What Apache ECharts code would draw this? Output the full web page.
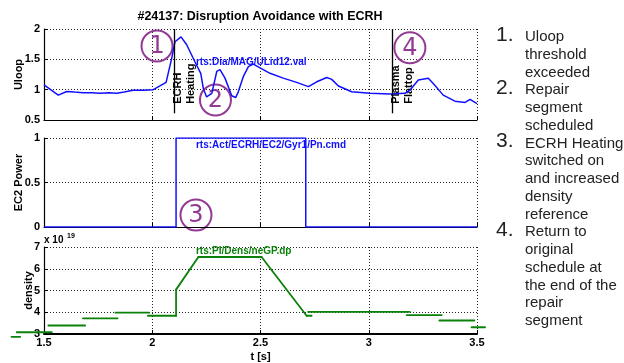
<!DOCTYPE html>
<html>
<head>
<meta charset="utf-8">
<script src="https://cdn.jsdelivr.net/npm/echarts@6/dist/echarts.min.js"></script>
<style>
  html, body { margin: 0; padding: 0; background: #fff; }
  #chart { width: 624px; height: 363px; }
</style>
</head>
<body>
<div id="chart"></div>
<script>
// Uloop (rts:Dia/MAG/ULid12.val)
const ulT = [1.50, 1.566, 1.605, 1.64, 1.68, 1.72, 1.759, 1.80, 1.836, 1.87, 1.911, 1.96, 2.005, 2.064, 2.09, 2.105,
  2.133, 2.159, 2.197, 2.224, 2.236, 2.251, 2.275, 2.298, 2.313, 2.336, 2.367, 2.385, 2.397, 2.42, 2.444, 2.467,
  2.498, 2.544, 2.605, 2.667, 2.721, 2.76, 2.806, 2.829, 2.86, 2.921, 3.006, 3.098, 3.167, 3.19, 3.229, 3.275,
  3.298, 3.344, 3.398, 3.445, 3.468, 3.50];
const ulV = [1.08, 0.91, 0.97, 0.96, 0.95, 0.95, 0.94, 0.95, 0.94, 0.96, 0.99, 0.99, 1.00, 1.12, 1.52, 1.79,
  1.87, 1.74, 1.46, 1.27, 1.02, 0.88, 0.94, 1.30, 1.33, 1.19, 0.90, 0.87, 0.96, 1.21, 1.38, 1.42,
  1.36, 1.27, 1.19, 1.12, 1.05, 1.13, 1.20, 1.17, 1.06, 0.965, 0.94, 0.93, 0.94, 0.99, 1.16, 1.19,
  1.10, 0.91, 0.81, 0.79, 0.84, 0.77];

// EC2 power command (rts:Act/ECRH/EC2/Gyr1/Pn.cmd)
const ecT = [1.5, 2.11, 2.11, 2.709, 2.709, 3.5];
const ecV = [0, 0, 1, 1, 0, 0];

// density reference (rts:PI/Dens/neGP.dp), x 10^19, null = break
const densT = [1.35, 1.39, null, 1.374, 1.536, null, 1.52, 1.69, null, 1.68, 1.84, null, 1.83, 1.985, null,
  1.98, 2.11, 2.11, 2.213, 2.505, 2.713, 2.736, null, 2.72, 3.19, null, 3.175, 3.337, null, 3.326, 3.488, null,
  3.475, 3.537];
const densV = [2.87, 2.87, null, 3.08, 3.08, null, 3.39, 3.39, null, 3.72, 3.72, null, 3.98, 3.98, null,
  3.84, 3.84, 5.04, 6.54, 6.54, 3.84, 3.84, null, 4.02, 4.02, null, 3.87, 3.87, null, 3.62, 3.62, null,
  3.31, 3.31];

// event lines in the Uloop panel
const eventT = [2.102, 3.109];
const eventLabels = [['ECRH', 'Heating'], ['Plasma', 'Flattop']];

const notes = [
  ['1.', ['Uloop', 'threshold', 'exceeded']],
  ['2.', ['Repair', 'segment', 'scheduled']],
  ['3.', ['ECRH Heating', 'switched on', 'and increased', 'density', 'reference']],
  ['4.', ['Return to', 'original', 'schedule at', 'the end of the', 'repair', 'segment']]
];

const FONT = 'Liberation Sans, Arial, sans-serif';
const PURPLE = '#933a94';
const BLUE = '#1010ff';
const GREEN = '#0a820a';

const chart = echarts.init(document.getElementById('chart'));

function xAxis(gridIndex, showLabels) {
  return {
    type: 'value', gridIndex, min: 1.5, max: 3.5, interval: 0.5,
    axisLine: { onZero: false, lineStyle: { color: '#000', width: showLabels ? 2 : 1.2 } },
    axisTick: { inside: true, length: 4, lineStyle: { color: '#000' } },
    axisLabel: { show: showLabels, color: '#000', fontWeight: 'bold', fontSize: 11, fontFamily: FONT, margin: 3 },
    splitLine: { show: true, lineStyle: { color: '#222', type: [1, 2], width: 1 } },
    name: showLabels ? 't [s]' : '', nameLocation: 'middle', nameGap: 17, nameMoveOverlap: false,
    nameTextStyle: { color: '#000', fontWeight: 'bold', fontSize: 11, fontFamily: FONT }
  };
}

function yAxis(gridIndex, min, max, interval, name, nameGap) {
  return {
    type: 'value', gridIndex, min, max, interval,
    axisLine: { show: true, lineStyle: { color: '#000', width: 1.2 } },
    axisTick: { show: true, inside: true, length: 4, lineStyle: { color: '#000' } },
    axisLabel: { color: '#000', fontWeight: 'bold', fontSize: 11, fontFamily: FONT, margin: 4 },
    splitLine: { show: true, lineStyle: { color: '#222', type: [1, 2], width: 1 } },
    name, nameLocation: 'middle', nameGap, nameMoveOverlap: false,
    nameTextStyle: { color: '#000', fontWeight: 'bold', fontSize: 11, fontFamily: FONT }
  };
}

// density segments between consecutive non-null points
const densSegs = [];
for (let i = 1; i < densT.length; i++) {
  if (densT[i] !== null && densT[i - 1] !== null) {
    densSegs.push([densT[i - 1], densV[i - 1], densT[i], densV[i]]);
  }
}

const option = {
  animation: false,
  grid: [
    { left: 44, top: 29, width: 433, height: 91 },
    { left: 44, top: 138, width: 433, height: 89 },
    { left: 44, top: 247, width: 433, height: 89 }
  ],
  xAxis: [xAxis(0, false), xAxis(1, false), xAxis(2, true)],
  yAxis: [
    yAxis(0, 0.5, 2, 0.5, 'Uloop', 20),
    yAxis(1, 0, 1, 0.5, 'EC2 Power', 20),
    yAxis(2, 3, 7, 1, 'density', 10)
  ],
  series: [
    {
      type: 'line', xAxisIndex: 0, yAxisIndex: 0, symbol: 'none',
      data: ulT.map((t, i) => [t, ulV[i]]),
      lineStyle: { color: BLUE, width: 1.5 },
      markLine: {
        silent: true, symbol: 'none', label: { show: false },
        lineStyle: { color: '#000', width: 1.3, type: 'solid' },
        data: eventT.map(t => [{ coord: [t, 0.61] }, { coord: [t, 2] }])
      }
    },
    {
      type: 'line', xAxisIndex: 1, yAxisIndex: 1, symbol: 'none',
      data: ecT.map((t, i) => [t, ecV[i]]),
      lineStyle: { color: BLUE, width: 1.5 }
    },
    {
      // custom so the segments outside the t range are not cut off
      type: 'custom', xAxisIndex: 2, yAxisIndex: 2, clip: false, silent: true,
      data: densSegs,
      encode: { x: [0, 2], y: [1, 3] },
      renderItem: (params, api) => {
        const a = api.coord([api.value(0), api.value(1)]);
        const b = api.coord([api.value(2), api.value(3)]);
        return {
          type: 'line',
          shape: { x1: a[0], y1: a[1], x2: b[0], y2: b[1] },
          style: { stroke: GREEN, lineWidth: 1.8, lineCap: 'round' }
        };
      }
    }
  ]
};

chart.setOption(option);

// annotations, placed in data coordinates
const px = (g, x, y) => chart.convertToPixel({ gridIndex: g }, [x, y]);
const graphic = [];

function addText(x, y, text, style, extra) {
  graphic.push(Object.assign({ type: 'text', x, y, silent: true,
    style: Object.assign({ text, fontFamily: FONT }, style) }, extra || {}));
}

addText(260, 16, '#24137: Disruption Avoidance with ECRH',
  { fontSize: 13, fontWeight: 'bold', fill: '#000', align: 'center', verticalAlign: 'middle' },
  { scaleX: 0.96 });

let p = px(0, 2.202, 1.455);
addText(p[0], p[1], 'rts:Dia/MAG/ULid12.val', { fontSize: 10, fontWeight: 'bold', fill: BLUE, verticalAlign: 'middle' });
p = px(1, 2.202, 0.92);
addText(p[0], p[1], 'rts:Act/ECRH/EC2/Gyr1/Pn.cmd', { fontSize: 10, fontWeight: 'bold', fill: BLUE, verticalAlign: 'middle' });
p = px(2, 2.202, 6.82);
addText(p[0], p[1], 'rts:PI/Dens/neGP.dp', { fontSize: 10, fontWeight: 'bold', fill: GREEN, verticalAlign: 'middle' });

// x 10^19
p = px(2, 1.5, 7);
addText(p[0], p[1] - 7, 'x 10', { fontSize: 10, fontWeight: 'bold', fill: '#000', verticalAlign: 'middle' });
addText(p[0] + 23, p[1] - 11, '19', { fontSize: 7, fontWeight: 'bold', fill: '#000', verticalAlign: 'middle' });

// rotated event labels
eventT.forEach((t, k) => {
  const b = px(0, t, 0.75);
  eventLabels[k].forEach((s, j) => {
    addText(b[0] + 3.5 + j * 13, b[1] - 1, s,
      { fontSize: 11, fontWeight: 'bold', fill: '#000', align: 'left', verticalAlign: 'middle' },
      { rotation: Math.PI / 2 });
  });
});

// circled step numbers
const circles = [[0, 2.022, 1.72, '1'], [0, 2.292, 0.83, '2'], [1, 2.202, 0.135, '3'], [0, 3.19, 1.69, '4']];
circles.forEach(([g, x, y, n]) => {
  const c = px(g, x, y);
  graphic.push({ type: 'circle', silent: true, shape: { cx: c[0], cy: c[1], r: 15.5 },
    style: { fill: 'none', stroke: PURPLE, lineWidth: 2 } });
  addText(c[0], c[1] + 1, n, { fontSize: 24, fill: PURPLE, align: 'center', verticalAlign: 'middle', fontFamily: 'DejaVu Sans, sans-serif' });
});

// numbered list on the right
let line = 0;
const lh = 17.75;
notes.forEach(([num, lines]) => {
  const y0 = 37 + line * lh;
  addText(496, y0 - 2, num, { fontSize: 21, fill: '#222', verticalAlign: 'middle' });
  lines.forEach((s, j) => {
    addText(525, y0 + j * lh, s, { fontSize: 15, fill: '#222', verticalAlign: 'middle' });
  });
  line += lines.length;
});

chart.setOption({ graphic });
</script>
</body>
</html>
